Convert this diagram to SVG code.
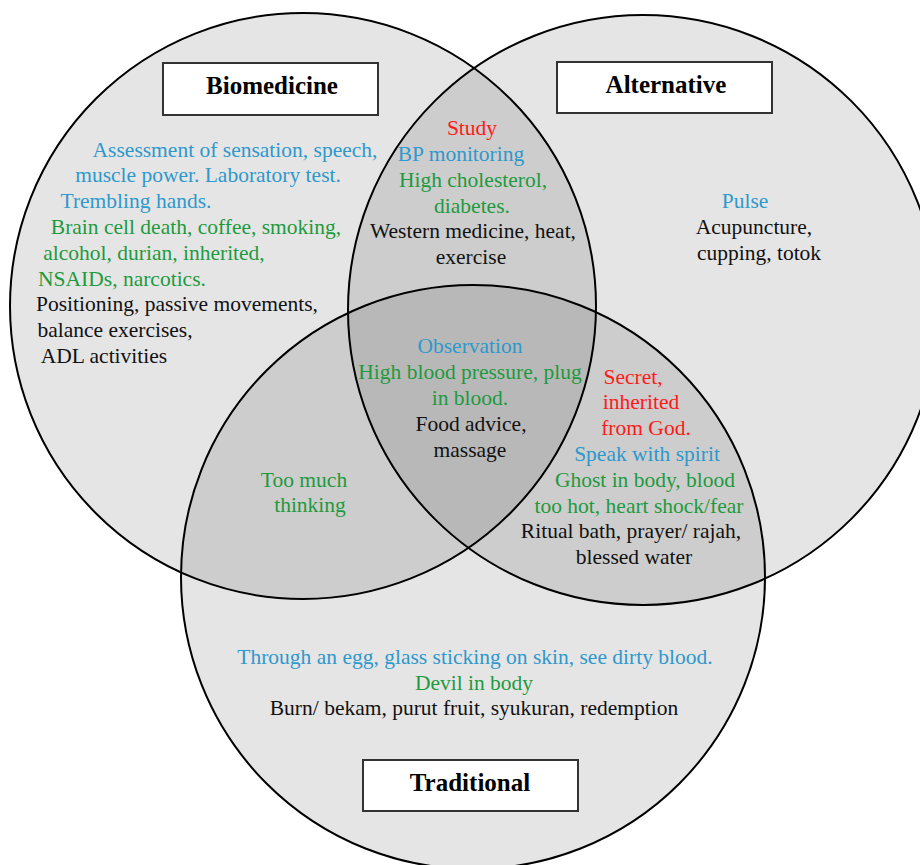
<svg xmlns="http://www.w3.org/2000/svg" width="920" height="865" viewBox="0 0 920 865">
<style>
.c{fill:#000;fill-opacity:0.1;stroke:#000;stroke-width:2}
.box{fill:#fff;stroke:#333;stroke-width:2}
.t{font-family:"Liberation Serif","Times New Roman",serif;font-size:21.5px;text-anchor:middle}
.h{font-family:"Liberation Serif","Times New Roman",serif;font-size:25px;font-weight:bold;text-anchor:middle;fill:#000}
.b{fill:#2f98cc}
.g{fill:#1e9a3e}
.r{fill:#ff1a1a}
.k{fill:#111}
</style>
<rect width="920" height="865" fill="#fff"/>
<g id="circles">
<circle id="circle-biomedicine" class="c" cx="303" cy="306" r="293"/>
<circle id="circle-alternative" class="c" cx="643" cy="310" r="295"/>
<circle id="circle-traditional" class="c" cx="473" cy="577" r="292"/>
</g>
<g id="biomedicine">
<rect class="box" x="163" y="63" width="215" height="52"/>
<text class="h" x="272" y="94">Biomedicine</text>
<text class="t b" x="235" y="157">Assessment of sensation, speech,</text>
<text class="t b" x="208" y="182">muscle power. Laboratory test.</text>
<text class="t b" x="136" y="208">Trembling hands.</text>
<text class="t g" x="196" y="234">Brain cell death, coffee, smoking,</text>
<text class="t g" x="154" y="260">alcohol, durian, inherited,</text>
<text class="t g" x="122" y="286">NSAIDs, narcotics.</text>
<text class="t k" x="177" y="311">Positioning, passive movements,</text>
<text class="t k" x="115" y="337">balance exercises,</text>
<text class="t k" x="104" y="363">ADL activities</text>
</g>
<g id="bio-alt">
<text class="t r" x="472" y="135">Study</text>
<text class="t b" x="461" y="161">BP monitoring</text>
<text class="t g" x="473" y="187">High cholesterol,</text>
<text class="t g" x="472" y="213">diabetes.</text>
<text class="t k" x="473" y="238">Western medicine, heat,</text>
<text class="t k" x="471" y="264">exercise</text>
</g>
<g id="alternative">
<rect class="box" x="557" y="62" width="215" height="51"/>
<text class="h" x="666" y="93">Alternative</text>
<text class="t b" x="745" y="208">Pulse</text>
<text class="t k" x="754" y="234">Acupuncture,</text>
<text class="t k" x="759" y="260">cupping, totok</text>
</g>
<g id="all-three">
<text class="t b" x="470" y="353">Observation</text>
<text class="t g" x="470" y="379">High blood pressure, plug</text>
<text class="t g" x="470" y="405">in blood.</text>
<text class="t k" x="471" y="431">Food advice,</text>
<text class="t k" x="470" y="457">massage</text>
</g>
<g id="bio-trad">
<text class="t g" x="304" y="487">Too much</text>
<text class="t g" x="310" y="512">thinking</text>
</g>
<g id="alt-trad">
<text class="t r" x="633" y="384">Secret,</text>
<text class="t r" x="641" y="409">inherited</text>
<text class="t r" x="646" y="435">from God.</text>
<text class="t b" x="647" y="461">Speak with spirit</text>
<text class="t g" x="645" y="487">Ghost in body, blood</text>
<text class="t g" x="639" y="513">too hot, heart shock/fear</text>
<text class="t k" x="631" y="538">Ritual bath, prayer/ rajah,</text>
<text class="t k" x="634" y="564">blessed water</text>
</g>
<g id="traditional">
<rect class="box" x="363" y="760" width="215" height="51"/>
<text class="h" x="470" y="791">Traditional</text>
<text class="t b" x="475" y="664">Through an egg, glass sticking on skin, see dirty blood.</text>
<text class="t g" x="474" y="690">Devil in body</text>
<text class="t k" x="474" y="715">Burn/ bekam, purut fruit, syukuran, redemption</text>
</g>
<g id="connectors"/>
</svg>
